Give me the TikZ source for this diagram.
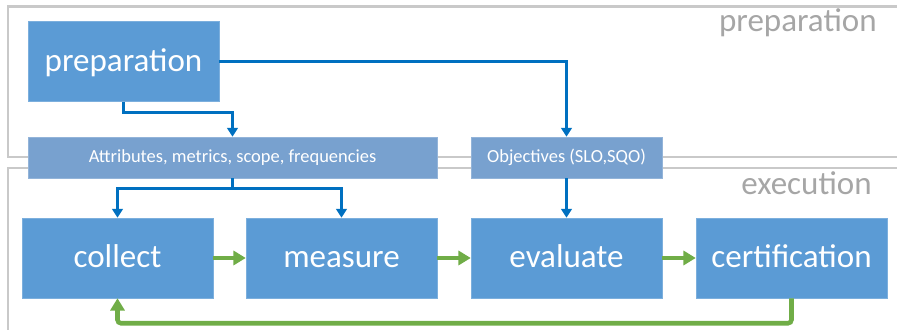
\documentclass[tikz,border=0pt]{standalone}
\usepackage{fontspec}
\setmainfont{Carlito}
\usepackage{xcolor}
\usetikzlibrary{arrows.meta}

\definecolor{boxblue}{HTML}{5B9BD5}
\definecolor{lightblue}{HTML}{78A1CF}
\definecolor{linkblue}{HTML}{0070C0}
\definecolor{flowgreen}{HTML}{70AD47}
\definecolor{framegray}{HTML}{C9C9C9}
\definecolor{labelgray}{HTML}{A6A6A6}

\tikzset{
  bigbox/.style={fill=boxblue, draw=boxblue!80!white, line width=0.3pt, text=white,
    minimum width=3.82cm, minimum height=1.6cm, inner sep=0pt,
    text height=13pt, text depth=1.7pt,
    font=\fontsize{18.8}{20}\selectfont},
  smallbox/.style={fill=lightblue, draw=lightblue!80!white, line width=0.3pt, text=white,
    minimum height=0.82cm, inner sep=0pt, text height=7pt, text depth=0.8pt,
    font=\fontsize{10.5}{12}\selectfont},
  bluearrow/.style={draw=linkblue, line width=1.5pt, -{Triangle[length=5pt,width=6pt]}},
  greenarrow/.style={draw=flowgreen, line width=2.6pt, -{Triangle[length=7pt,width=8pt]}},
  frame/.style={draw=framegray, line width=1.7pt},
  framelabel/.style={text=labelgray, anchor=base east, inner sep=0pt,
    font=\fontsize{18.8}{20}\selectfont}
}

\begin{document}
\begin{tikzpicture}[x=0.02cm, y=-0.02cm]
\useasboundingbox (0,0) rectangle (897,330);
% frames
\begin{scope}
\clip (0,0) rectangle (897,330);
\draw[frame] (8,7) rectangle (910,157);
\draw[frame] (8,168) rectangle (910,345);
\end{scope}
\node[framelabel] (preplabel) at (877,32) {preparation};
\node[framelabel] (execlabel) at (872,195) {execution};

% boxes
\node[bigbox] (prep) at (123.5,61.5) {preparation};
\node[smallbox, minimum width=8.18cm] (attr) at (232.5,157.5) {Attributes, metrics, scope, frequencies};
\node[smallbox, minimum width=3.82cm] (obj) at (566.5,157.5) {Objectives (SLO,SQO)};
\node[bigbox] (collect) at (117.5,258) {collect};
\node[bigbox] (measure) at (341.5,258) {measure};
\node[bigbox] (evaluate) at (566.5,258) {evaluate};
\node[bigbox] (cert) at (791.5,258) {certification};

% blue links
\draw[bluearrow] (prep.south) -- ++(0,11) -| (attr.north);
\draw[bluearrow] (prep.east) -| (obj.north);
\draw[bluearrow] (attr.south) -- ++(0,10) -| (collect.north);
\draw[bluearrow] (attr.south) -- ++(0,10) -| (measure.north);
\draw[bluearrow] (obj.south) -- (evaluate.north);

% green flow
\draw[greenarrow] (collect.east) -- (measure.west);
\draw[greenarrow] (measure.east) -- (evaluate.west);
\draw[greenarrow] (evaluate.east) -- (cert.west);
\draw[greenarrow, rounded corners=2pt] (cert.south) -- ++(0,25) -| (collect.south);
\end{tikzpicture}
\end{document}
